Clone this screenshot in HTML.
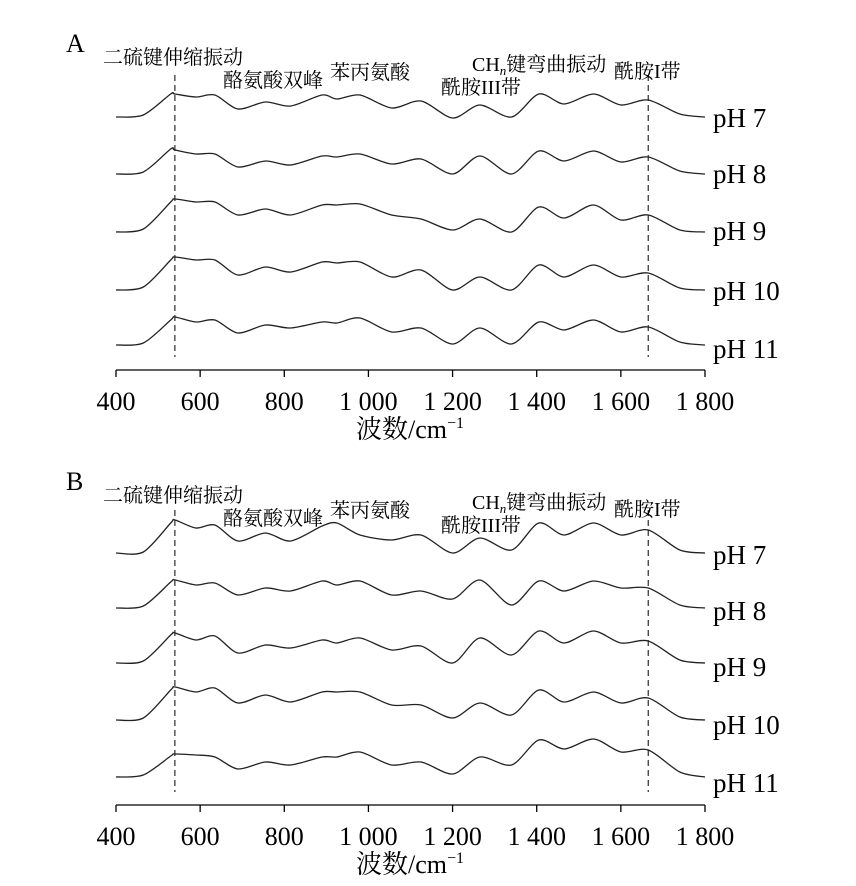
<!DOCTYPE html>
<html><head><meta charset="utf-8"><style>
html,body{margin:0;padding:0;background:#fff;}
svg{display:block;font-family:"Liberation Serif","Noto Serif CJK SC",serif;}
.cn{font-family:"Liberation Serif","Noto Serif CJK SC","Noto Sans CJK SC",serif;}
</style></head><body>
<svg id="chart" width="856" height="886" viewBox="0 0 856 886"></svg>
<script>
const wavenumbers=[400,465,530,540,590,635,690,755,815,890,925,980,1055,1125,1200,1265,1340,1405,1465,1535,1600,1665,1740,1800];
const seriesLabels=["pH 7","pH 8","pH 9","pH 10","pH 11"];
const panelA_pH7=[0,2,23,23,20,22,8,15,11,22,18,22,9,16,-1,12,0,23,13,23,12,17,3,0];
const panelA_pH8=[0,2,25,24,20,20,7,13,9,18,17,20,10,15,0,18,0,23,13,23,12,17,3,0];
const panelA_pH9=[0,3,30,33,30,30,17,23,17,27,27,28,17,13,2,13,0,25,14,27,12,17,2,0];
const panelA_pH10=[0,3,30,33,30,30,15,23,18,28,27,28,13,20,0,13,0,25,13,25,13,17,2,0];
const panelA_pH11=[0,2,25,28,23,25,12,20,17,23,22,27,13,17,1,17,1,23,15,25,13,18,3,0];
const panelB_pH7=[0,1,30,33,25,28,12,20,12,27,30,18,13,18,0,15,3,30,18,30,18,23,3,0];
const panelB_pH8=[0,2,26,28,23,25,13,20,17,27,23,27,13,17,9,28,3,27,17,27,20,20,3,0];
const panelB_pH9=[0,2,28,30,23,27,10,18,15,23,20,25,13,17,0,25,8,32,20,32,20,22,3,0];
const panelB_pH10=[0,2,30,33,28,32,17,25,18,28,28,28,15,15,2,17,5,30,18,28,17,22,3,0];
const panelB_pH11=[0,2,21,23,22,20,8,15,12,20,20,25,12,15,3,20,12,37,28,38,25,27,5,0];
const tickValues=[400,600,800,1000,1200,1400,1600,1800];
const tickLabels=["400","600","800","1 000","1 200","1 400","1 600","1 800"];
const markerWavenumbers=[540,1665];

const NS="http://www.w3.org/2000/svg";
const svg=document.getElementById('chart');
const X0=116,X1=705;
function xScale(w){return X0+(w-400)/1400*(X1-X0);}
function el(tag,attrs,parent){const e=document.createElementNS(NS,tag);for(const k in attrs)e.setAttribute(k,attrs[k]);(parent||svg).appendChild(e);return e;}
function pathFor(vals,base){
  const p=wavenumbers.map((w,i)=>[xScale(w),base-vals[i]]);
  let d="M"+p[0][0].toFixed(1)+","+p[0][1].toFixed(1);
  for(let i=0;i<p.length-1;i++){
    const p0=p[i-1]||p[i],p1=p[i],p2=p[i+1],p3=p[i+2]||p[i+1];
    const c1=[p1[0]+(p2[0]-p0[0])/7,p1[1]+(p2[1]-p0[1])/7];
    const c2=[p2[0]-(p3[0]-p1[0])/7,p2[1]-(p3[1]-p1[1])/7];
    d+=" C"+c1[0].toFixed(1)+","+c1[1].toFixed(1)+" "+c2[0].toFixed(1)+","+c2[1].toFixed(1)+" "+p2[0].toFixed(1)+","+p2[1].toFixed(1);
  }
  return d;
}
const panels=[
 {id:"a",letter:"A",dy:0,series:[panelA_pH7,panelA_pH8,panelA_pH9,panelA_pH10,panelA_pH11],bases:[117,174,232,290,345],labelY:[118,174,231,291,349],axisY:370,dash:[75,357]},
 {id:"b",letter:"B",dy:438,series:[panelB_pH7,panelB_pH8,panelB_pH9,panelB_pH10,panelB_pH11],bases:[553,608,663,720,777],labelY:[555,611,667,725,783],axisY:805,dash:[510,792]}
];
panels.forEach(P=>{
  const g=el('g',{});
  
  
  const L=el('text',{x:66,y:52+P.dy,'font-size':26},g);L.textContent=P.letter;
  
  
  markerWavenumbers.forEach((w,i)=>{
    const ln=el('line',{x1:xScale(w),x2:xScale(w),y1:P.dash[0],y2:P.dash[1],stroke:'#000','stroke-width':1,'stroke-dasharray':'6,4'},g);
    
    
  });
  const ann=[["二硫键伸缩振动",103,64],["酪氨酸双峰",223,87],["苯丙氨酸",330,79],["酰胺III带",441,94],["酰胺I带",614,78]];
  ann.forEach((a,i)=>{
    const t=el('text',{x:a[1],y:a[2]+P.dy,'font-size':20,class:'cn'},g);t.textContent=a[0];
    
    
  });
  const ch=el('text',{x:472,y:71+P.dy,'font-size':20,class:'cn'},g);
  
  
  ch.innerHTML='CH<tspan font-size="13" font-style="italic" dy="4">n</tspan><tspan dy="-4">键弯曲振动</tspan>';
  P.series.forEach((vals,i)=>{
    const p=el('path',{d:pathFor(vals,P.bases[i]),fill:'none',stroke:'#222','stroke-width':1.3},g);
    
    
    const t=el('text',{x:713,y:P.labelY[i]+9,'font-size':27},g);t.textContent=seriesLabels[i];
    
    
  });
  const ax=el('line',{x1:X0,x2:X1,y1:P.axisY,y2:P.axisY,stroke:'#000','stroke-width':1.3},g);
  
  
  tickValues.forEach((v,i)=>{
    const tk=el('line',{x1:xScale(v),x2:xScale(v),y1:P.axisY,y2:P.axisY+7,stroke:'#000','stroke-width':1.3},g);
    
    
    const t=el('text',{x:xScale(v),y:P.axisY+40,'font-size':26,'text-anchor':'middle'},g);t.textContent=tickLabels[i];
    
    
  });
  const ti=el('text',{x:410,y:P.axisY+68,'font-size':26,'text-anchor':'middle',class:'cn'},g);
  ti.innerHTML='波数/cm<tspan font-size="16" dy="-10">−1</tspan>';
  
  
});
</script>
</body></html>
